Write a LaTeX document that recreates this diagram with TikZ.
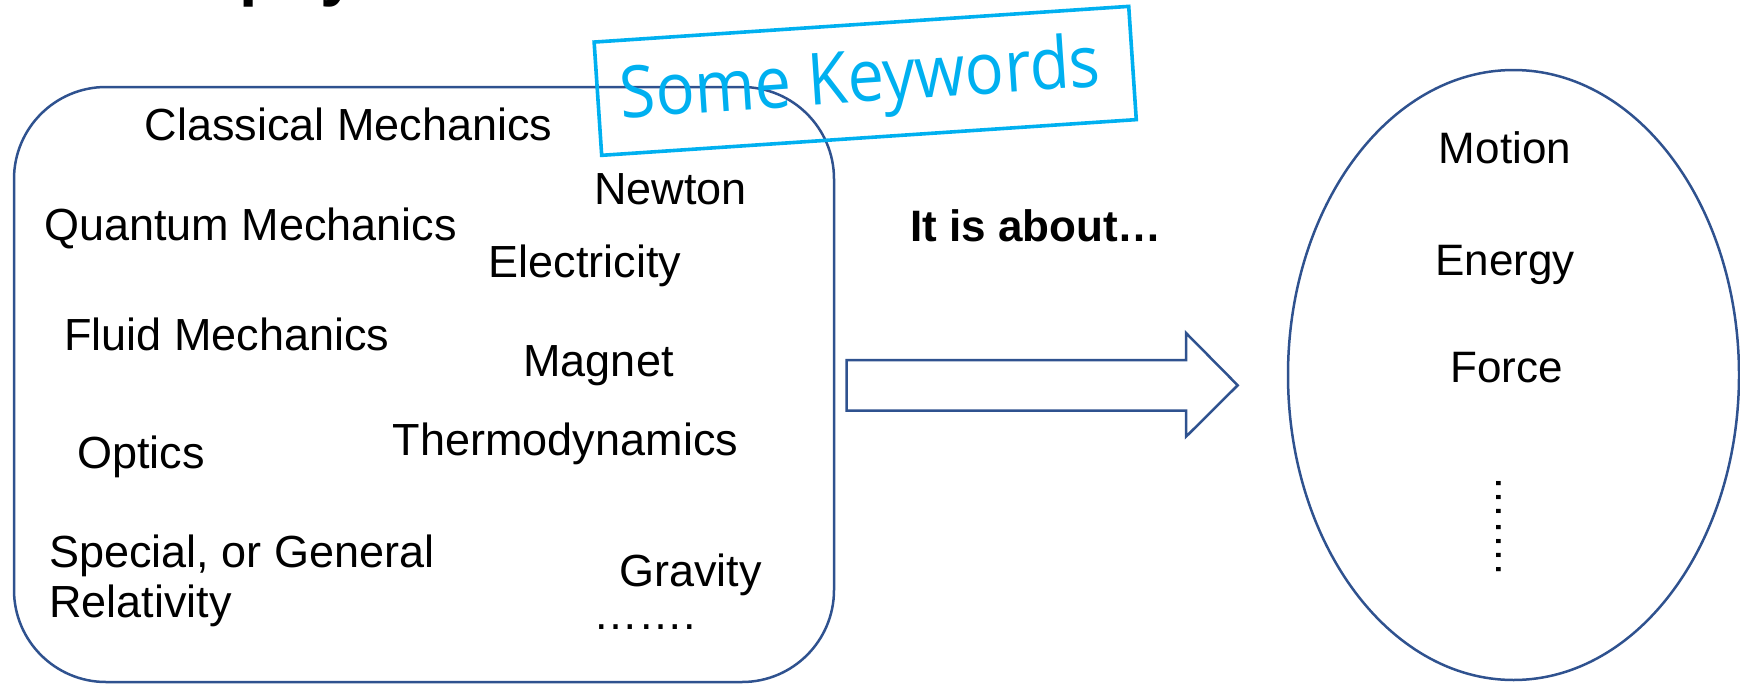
\documentclass[tikz,border=0pt]{standalone}
\usepackage{fontspec}
\setmainfont{Liberation Sans}
\newfontfamily\kwfont{Open Sans}[FakeStretch=0.9]
\usetikzlibrary{shapes.geometric}
\definecolor{shapeblue}{HTML}{2F528F}
\definecolor{kwcyan}{HTML}{00B0F0}
\begin{document}
\begin{tikzpicture}[x=0.5pt, y=-0.5pt,
  outline/.style={draw=shapeblue, line width=1.25pt},
  lbl/.style={font=\fontsize{22.5}{27}\selectfont, inner sep=0, anchor=base},
  rlbl/.style={font=\fontsize{22}{26}\selectfont, inner sep=0, anchor=base}]
\useasboundingbox (0,0) rectangle (1740,685);
% cut-off title at the top
\begin{scope}
\clip (0,0) rectangle (1740,685);
\node[font=\bfseries\fontsize{33}{36}\selectfont, anchor=base west, inner sep=0] (title) at (239.4,-6.9) {physics};
\end{scope}
% left rounded box
\node[outline, rounded corners=46pt, minimum width=410pt, minimum height=297.5pt, inner sep=0] (topics) at (424,384.5) {};
% right ellipse
\node[outline, ellipse, minimum width=225.5pt, minimum height=305pt, inner sep=0] (aspects) at (1513.5,375) {};
% block arrow
\draw[outline, line join=miter] (846.7,360) -- (1186,360) -- (1186,333) -- (1237.7,385.3) -- (1186,436.7) -- (1186,410.7) -- (846.7,410.7) -- cycle;
% left texts
\node[lbl] (cm) at (348.5,140) {Classical Mechanics};
\node[lbl] (qm) at (250.5,240) {Quantum Mechanics};
\node[lbl] (newton) at (670.5,204) {Newton};
\node[lbl] (elec) at (585,277) {Electricity};
\node[lbl] (fm) at (227,350) {Fluid Mechanics};
\node[lbl] (magnet) at (598.5,376.7) {Magnet};
\node[lbl] (thermo) at (565.5,455) {Thermodynamics};
\node[lbl] (optics) at (141,468) {Optics};
\node[lbl, anchor=base west] (rel1) at (49,567) {Special, or General};
\node[lbl, anchor=base west] (rel2) at (49,617) {Relativity};
\node[lbl] (gravity) at (690.5,586.7) {Gravity};
\node[font=\fontsize{22.5}{27}\selectfont, inner sep=0] (ldots) at (644.5,627) {…….};
% middle text
\node[font=\bfseries\fontsize{22}{26}\selectfont, inner sep=0, anchor=base] (about) at (1036,241.7) {It is about…};
% right texts
\node[rlbl] (motion) at (1505,163.6) {Motion};
\node[rlbl] (energy) at (1505,275.2) {Energy};
\node[rlbl] (force) at (1506.7,382) {Force};
\node[font=\fontsize{22}{26}\selectfont, inner sep=0, rotate=-90] (rdots) at (1499.3,525.5) {…….};
% keywords box
\begin{scope}[shift={(865.2,80.85)}, rotate=3.82, transform shape]
\node[draw=kwcyan, line width=1.8pt, minimum width=267.9pt, minimum height=56.75pt, inner sep=0] (kwbox) at (0,0) {};
\node[font=\kwfont\fontsize{36}{40}\selectfont, text=kwcyan, anchor=base, inner sep=0] (kw) at (-5,21) {Some Keywords};
\end{scope}
\end{tikzpicture}
\end{document}
